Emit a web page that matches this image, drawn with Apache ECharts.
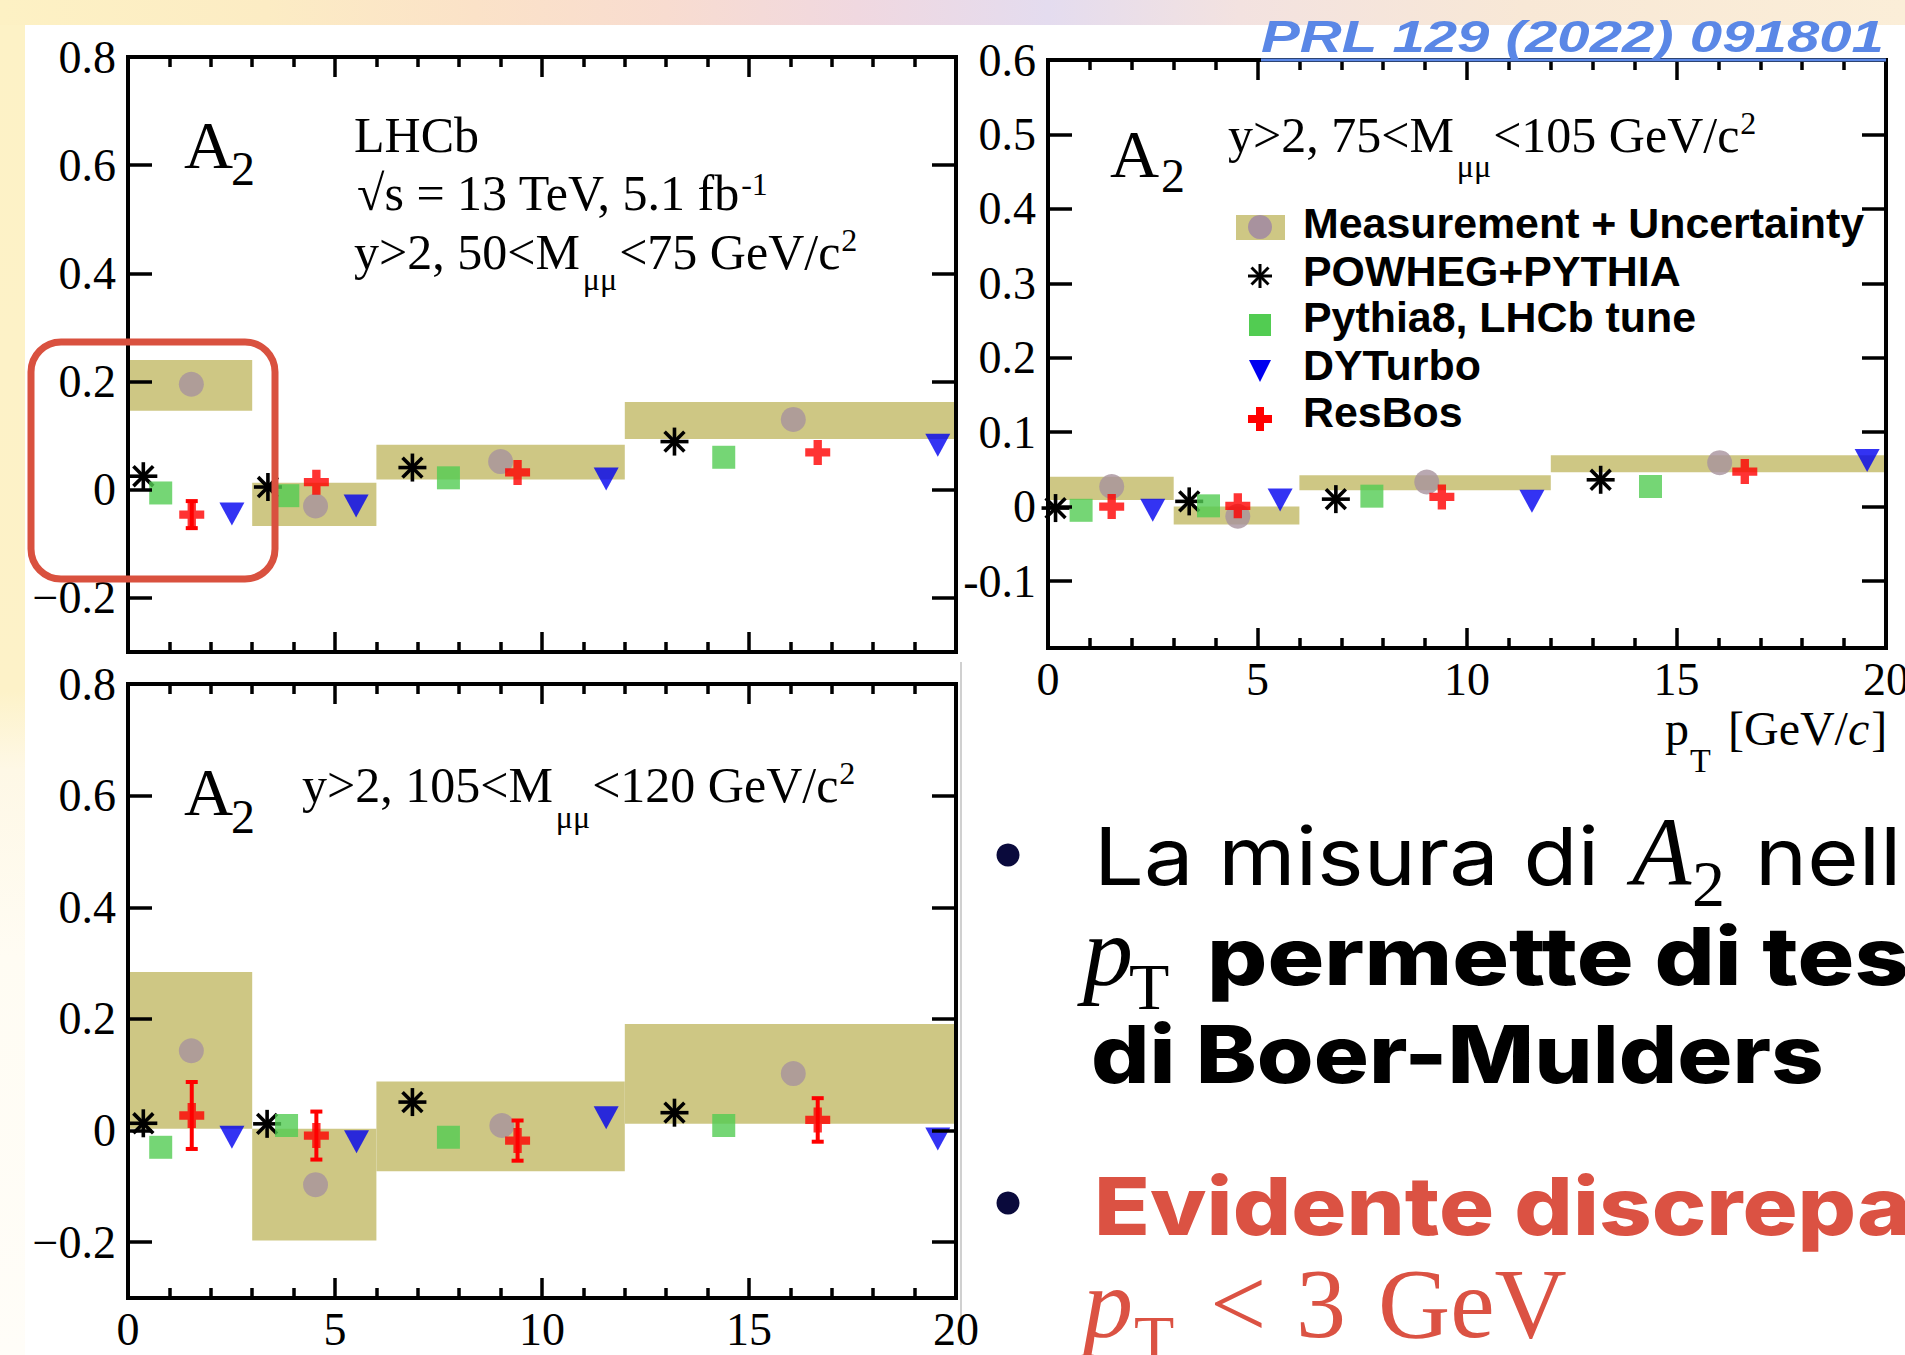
<!DOCTYPE html>
<html><head><meta charset="utf-8">
<script src="https://cdn.jsdelivr.net/npm/echarts@6/dist/echarts.min.js"></script>
<style>html,body{margin:0;padding:0;background:#fff;overflow:hidden}#c{width:1905px;height:1355px}</style>
</head><body><div id="c"></div>
<script>
// ---------------- data ----------------
const binEdges = [0, 3, 6, 12, 20];
const xTicks = [0, 5, 10, 15, 20];
const yTicksLeft = [-0.2, 0, 0.2, 0.4, 0.6, 0.8];
const yTicksRight = [-0.1, 0, 0.1, 0.2, 0.3, 0.4, 0.5, 0.6];

// panel A : y>2, 50<M<75
const bandLoA = [0.146, -0.067, 0.019, 0.094];
const bandHiA = [0.240, 0.013, 0.083, 0.162];
const measA = [[1.53, 0.195], [4.53, -0.030], [9.00, 0.052], [16.07, 0.130]];
const powhegA = [[0.37, 0.025], [3.38, 0.005], [6.87, 0.041], [13.20, 0.089]];
const pythiaA = [[0.79, -0.006], [3.86, -0.011], [7.74, 0.022], [14.39, 0.060]];
const dyturboA = [[2.51, -0.045], [5.51, -0.030], [11.55, 0.020], [19.56, 0.082]];
const resbosA = [[1.54, -0.046], [4.55, 0.014], [9.41, 0.032], [16.66, 0.069]];
const resbosErrA = [0.025, 0, 0, 0];

// panel B : y>2, 75<M<105
const bandLoB = [0.009, -0.024, 0.022, 0.046];
const bandHiB = [0.040, 0.000, 0.042, 0.069];
const measB = [[1.52, 0.027], [4.53, -0.013], [9.04, 0.033], [16.03, 0.059]];
const powhegB = [[0.18, -0.002], [3.37, 0.007], [6.87, 0.010], [13.19, 0.036]];
const pythiaB = [[0.79, -0.005], [3.83, 0.001], [7.73, 0.014], [14.38, 0.027]];
const dyturboB = [[2.50, -0.005], [5.54, 0.009], [11.55, 0.007], [19.55, 0.062]];
const resbosB = [[1.52, 0.000], [4.53, 0.001], [9.40, 0.013], [16.63, 0.047]];
const resbosErrB = [0, 0, 0, 0];

// panel C : y>2, 105<M<120
const bandLoC = [0.003, -0.197, -0.073, 0.012];
const bandHiC = [0.284, 0.003, 0.088, 0.191];
const measC = [[1.53, 0.143], [4.53, -0.097], [9.03, 0.009], [16.07, 0.102]];
const powhegC = [[0.37, 0.013], [3.36, 0.012], [6.87, 0.051], [13.20, 0.032]];
const pythiaC = [[0.79, -0.030], [3.83, 0.009], [7.74, -0.012], [14.39, 0.009]];
const dyturboC = [[2.51, -0.012], [5.52, -0.020], [11.55, 0.023], [19.56, -0.015]];
const resbosC = [[1.54, 0.027], [4.55, -0.009], [9.41, -0.018], [16.66, 0.019]];
const resbosErrC = [0.060, 0.043, 0.036, 0.039];

const legendLabels = ['Measurement + Uncertainty', 'POWHEG+PYTHIA', 'Pythia8, LHCb tune', 'DYTurbo', 'ResBos'];

// ---------------- styles ----------------
const SERIF = '"Liberation Serif", "Times New Roman", serif';
const SANS = '"Liberation Sans", Arial, sans-serif';
const INTER = 'Inter, "Noto Sans", sans-serif';
const BAND = '#cec784', MEAS = '#a8929e', GREEN = '#52cc52', BLUE = '#0000f0', RED = '#ff0000';
const SLIDE_RED = '#db5243', NAVY = '#0a0a3c', LINK = '#5a87e6';
const PLUS = 'path://M3,0H6V3H9V6H6V9H3V6H0V3H3Z';

const chart = echarts.init(document.getElementById('c'), null, {renderer: 'svg', width: 1905, height: 1355});
const mctx = document.createElement('canvas').getContext('2d');
function measure(text, font) { mctx.font = font; return mctx.measureText(text).width; }

// ---------------- grids & axes ----------------
const grids = [
  {left: 128, top: 57, width: 828, height: 595},
  {left: 1048, top: 60, width: 838, height: 588},
  {left: 128, top: 684, width: 828, height: 614}
].map(g => Object.assign({show: true, borderColor: '#000', borderWidth: 4, backgroundColor: 'transparent', z: 5, outerBoundsMode: 'none', containLabel: false}, g));

const xAxes = [], yAxes = [];
const tickLine = {color: '#000', width: 3.5};
function addAxes(g, yMin, yMax, yTicks, showX, fmt) {
  ['bottom', 'top'].forEach(pos => xAxes.push({
    gridIndex: g, type: 'value', min: 0, max: 20, interval: 5, position: pos, z: 6,
    axisLine: {show: false, onZero: false}, splitLine: {show: false},
    axisTick: {show: true, inside: true, length: 20, lineStyle: tickLine},
    minorTick: {show: true, splitNumber: 5, length: 10, lineStyle: tickLine},
    axisLabel: {show: showX && pos === 'bottom', showMinLabel: true, showMaxLabel: true, margin: 8,
      fontFamily: SERIF, fontSize: 46, color: '#000'}
  }));
  ['left', 'right'].forEach(pos => yAxes.push({
    gridIndex: g, type: 'value', min: yMin, max: yMax, position: pos, z: 6,
    axisLine: {show: false, onZero: false}, splitLine: {show: false},
    axisTick: {show: true, inside: true, length: 24, lineStyle: tickLine, customValues: yTicks},
    axisLabel: {show: pos === 'left', customValues: yTicks, formatter: fmt, margin: 12,
      fontFamily: SERIF, fontSize: 46, color: '#000'}
  }));
}
const fmtLong = v => (v === 0 ? '0' : String(v).replace('-', '\u2212'));
const fmtShort = v => String(v);
addAxes(0, -0.3, 0.8, yTicksLeft, false, fmtLong);
addAxes(1, -0.19, 0.6, yTicksRight, true, fmtShort);
addAxes(2, -0.3, 0.8, yTicksLeft, true, fmtLong);

// ---------------- series ----------------
const series = [];
function addPanel(g, lo, hi, meas, powheg, pythia, dyturbo, resbos, resErr) {
  const ax = {xAxisIndex: 2 * g, yAxisIndex: 2 * g};
  series.push(Object.assign({
    type: 'custom', name: 'band', z: 1, silent: true,
    data: lo.map((v, i) => [binEdges[i], binEdges[i + 1], v, hi[i]]),
    encode: {x: [0, 1], y: [2, 3]},
    renderItem: (p, api) => {
      const a = api.coord([api.value(0), api.value(3)]), b = api.coord([api.value(1), api.value(2)]);
      return {type: 'rect', shape: {x: a[0], y: a[1], width: b[0] - a[0], height: b[1] - a[1]}, style: {fill: BAND}};
    }
  }, ax));
  series.push(Object.assign({type: 'scatter', name: 'Measurement', z: 3, symbol: 'circle', symbolSize: 25,
    itemStyle: {color: MEAS}, data: meas}, ax));
  series.push(Object.assign({
    type: 'custom', name: 'POWHEG+PYTHIA', z: 3, data: powheg, encode: {x: 0, y: 1},
    renderItem: (p, api) => {
      const c = api.coord([api.value(0), api.value(1)]), r = 14;
      return {type: 'group', children: [0, 45, 90, 135].map(d => {
        const t = d * Math.PI / 180, dx = r * Math.cos(t), dy = r * Math.sin(t);
        return {type: 'line', shape: {x1: c[0] - dx, y1: c[1] - dy, x2: c[0] + dx, y2: c[1] + dy},
          style: {stroke: '#000', lineWidth: 3.6}};
      })};
    }
  }, ax));
  series.push(Object.assign({type: 'scatter', name: 'Pythia8', z: 3, symbol: 'rect', symbolSize: 23,
    itemStyle: {color: GREEN}, data: pythia}, ax));
  series.push(Object.assign({type: 'scatter', name: 'DYTurbo', z: 3, symbol: 'triangle', symbolRotate: 180,
    symbolSize: [25, 23], itemStyle: {color: BLUE}, data: dyturbo}, ax));
  series.push(Object.assign({
    type: 'custom', name: 'ResBos err', z: 4,
    data: resbos.map((p, i) => [p[0], p[1], resErr[i]]).filter(d => d[2] > 0),
    encode: {x: 0, y: 1},
    renderItem: (p, api) => {
      const x = api.value(0), y = api.value(1), e = api.value(2);
      const t = api.coord([x, y + e]), b = api.coord([x, y - e]), w = 6;
      const st = {stroke: RED, lineWidth: 4};
      return {type: 'group', children: [
        {type: 'line', shape: {x1: t[0], y1: t[1], x2: b[0], y2: b[1]}, style: st},
        {type: 'line', shape: {x1: t[0] - w, y1: t[1], x2: t[0] + w, y2: t[1]}, style: st},
        {type: 'line', shape: {x1: b[0] - w, y1: b[1], x2: b[0] + w, y2: b[1]}, style: st}
      ]};
    }
  }, ax));
  series.push(Object.assign({type: 'scatter', name: 'ResBos', z: 4, symbol: PLUS, symbolSize: 25,
    itemStyle: {color: RED}, data: resbos}, ax));
}
addPanel(0, bandLoA, bandHiA, measA, powhegA, pythiaA, dyturboA, resbosA, resbosErrA);
addPanel(1, bandLoB, bandHiB, measB, powhegB, pythiaB, dyturboB, resbosB, resbosErrB);
addPanel(2, bandLoC, bandHiC, measC, powhegC, pythiaC, dyturboC, resbosC, resbosErrC);

// ---------------- graphic overlay ----------------
const els = [];
function T(x, base, text, o) {
  const size = o.size, fam = o.family || SERIF;
  const font = (o.style || 'normal') + ' ' + (o.weight || 'normal') + ' ' + size + 'px ' + fam;
  const mid = o.mid != null ? o.mid : 0.34, sx = o.sx || 1;
  els.push({type: 'text', x: x, y: base - mid * size, scaleX: sx, z: 100,
    style: {text: text, font: font, fill: o.fill || '#000', align: 'left', textAlign: 'left',
      verticalAlign: 'middle', textVerticalAlign: 'middle'}});
  return x + measure(text, font) * sx;
}
// background
els.push({type: 'rect', z: -100, shape: {x: 0, y: 0, width: 1905, height: 1355}, style: {fill: '#ffffff'}});
els.push({type: 'rect', z: -99, shape: {x: 0, y: 0, width: 1905, height: 25}, style: {fill: {
  type: 'linear', x: 0, y: 0, x2: 1, y2: 0, colorStops: [
    {offset: 0, color: '#fdf1c4'}, {offset: 0.14, color: '#fcecc4'}, {offset: 0.25, color: '#fbe2c8'},
    {offset: 0.35, color: '#f8dcd0'}, {offset: 0.45, color: '#f0d8e0'}, {offset: 0.55, color: '#e4dcef'},
    {offset: 0.65, color: '#f3e2e0'}, {offset: 0.8, color: '#f8e8d6'}, {offset: 1, color: '#fbeed8'}]}}});
els.push({type: 'rect', z: -99, shape: {x: 0, y: 25, width: 25, height: 1330}, style: {fill: {
  type: 'linear', x: 0, y: 0, x2: 0, y2: 1, colorStops: [
    {offset: 0, color: '#fdf2c6'}, {offset: 0.5, color: '#fdf2c8'}, {offset: 0.56, color: '#fef8e6'},
    {offset: 0.7, color: '#fffcf3'}, {offset: 1, color: '#fffdf8'}]}}});
els.push({type: 'line', z: -50, shape: {x1: 961, y1: 662, x2: 961, y2: 1345}, style: {stroke: '#d0d0d0', lineWidth: 2}});

// panel annotations
T(184, 168, 'A', {size: 68}); T(231, 185, '2', {size: 48});
T(354, 151.5, 'LHCb', {size: 50});
let x = T(357, 210, '\u221As = 13 TeV, 5.1 fb', {size: 50}); T(x + 1, 195, '-1', {size: 32});
x = T(354, 269, 'y>2, 50<M', {size: 50}); x = T(x + 3, 290, '\u03bc\u03bc', {size: 32});
x = T(x + 2, 269, '<75 GeV/c', {size: 50}); T(x + 1, 251, '2', {size: 32});

T(1110, 177, 'A', {size: 68}); T(1161, 191.5, '2', {size: 48});
x = T(1228, 152, 'y>2, 75<M', {size: 50}); x = T(x + 3, 176.6, '\u03bc\u03bc', {size: 32});
x = T(x + 2, 152, '<105 GeV/c', {size: 50}); T(x + 1, 134, '2', {size: 32});

T(184, 815, 'A', {size: 68}); T(231, 833, '2', {size: 48});
x = T(302, 802, 'y>2, 105<M', {size: 50}); x = T(x + 3, 828, '\u03bc\u03bc', {size: 32});
x = T(x + 2, 802, '<120 GeV/c', {size: 50}); T(x + 1, 784, '2', {size: 32});

// pT axis title
T(1665, 745, 'p', {size: 48}); T(1690, 772, 'T', {size: 34});
x = T(1728, 745, '[GeV/', {size: 48}); x = T(x, 745, 'c', {size: 48, style: 'italic'}); T(x + 2, 745, ']', {size: 48});

// legend
const lx = 1260, lrows = [227, 276, 325, 370, 419], ltext = [224, 271.5, 318, 366, 412.5];
els.push({type: 'rect', z: 100, shape: {x: 1236, y: 215, width: 49, height: 25}, style: {fill: BAND}});
els.push({type: 'circle', z: 101, shape: {cx: lx, cy: lrows[0], r: 12}, style: {fill: MEAS}});
[0, 45, 90, 135].forEach(d => {
  const t = d * Math.PI / 180, r = 12, dx = r * Math.cos(t), dy = r * Math.sin(t);
  els.push({type: 'line', z: 101, shape: {x1: lx - dx, y1: lrows[1] - dy, x2: lx + dx, y2: lrows[1] + dy}, style: {stroke: '#000', lineWidth: 3}});
});
els.push({type: 'rect', z: 101, shape: {x: lx - 11, y: lrows[2] - 11, width: 22, height: 22}, style: {fill: GREEN}});
els.push({type: 'polygon', z: 101, shape: {points: [[lx - 11, lrows[3] - 10], [lx + 11, lrows[3] - 10], [lx, lrows[3] + 12]]}, style: {fill: BLUE}});
els.push({type: 'polygon', z: 101, shape: {points: [[lx - 4, lrows[4] - 12], [lx + 4, lrows[4] - 12], [lx + 4, lrows[4] - 4], [lx + 12, lrows[4] - 4], [lx + 12, lrows[4] + 4], [lx + 4, lrows[4] + 4], [lx + 4, lrows[4] + 12], [lx - 4, lrows[4] + 12], [lx - 4, lrows[4] + 4], [lx - 12, lrows[4] + 4], [lx - 12, lrows[4] - 4], [lx - 4, lrows[4] - 4]]}, style: {fill: RED}});
const legFont = 'normal bold 42px ' + SANS;
const legSx = 561 / measure(legendLabels[0], legFont);
legendLabels.forEach((s, i) => T(1303, ltext[i] + 0.3465 * 42, s, {size: 42, family: SANS, weight: 'bold', sx: legSx, mid: 0.3465}));

// red highlight box
els.push({type: 'rect', z: 110, shape: {x: 31, y: 342, width: 244, height: 237, r: 30}, style: {fill: 'none', stroke: '#d9513f', lineWidth: 7}});

// reference link
const prlFont = 'italic bold 44px ' + SANS;
const prlSx = 624 / measure('PRL 129 (2022) 091801', prlFont);
T(1261, 52, 'PRL 129 (2022) 091801', {size: 44, family: SANS, weight: 'bold', style: 'italic', fill: LINK, sx: prlSx, mid: 0.3465});
els.push({type: 'line', z: 100, shape: {x1: 1261, y1: 60, x2: 1886, y2: 60}, style: {stroke: LINK, lineWidth: 3}});

// slide bullets
els.push({type: 'circle', z: 100, shape: {cx: 1008, cy: 855, r: 11.5}, style: {fill: NAVY}});
els.push({type: 'circle', z: 100, shape: {cx: 1008, cy: 1203, r: 11.5}, style: {fill: NAVY}});
const fontL = 'normal normal 80px ' + INTER, fontB = 'normal 800 80px ' + INTER;
const sxL = 505 / measure('La misura di', fontL);
const sxB = 733 / measure('di Boer-Mulders', fontB);
T(1094, 884, 'La misura di', {size: 80, family: INTER, sx: sxL, mid: 0.36});
T(1632, 884, 'A', {size: 97, style: 'italic'}); T(1692, 906, '2', {size: 66});
T(1755, 884, 'nella', {size: 80, family: INTER, sx: sxL, mid: 0.36});
T(1083, 985, 'p', {size: 100, style: 'italic'}); T(1129, 1009, 'T', {size: 66});
T(1207, 985, 'permette di testare', {size: 80, family: INTER, weight: 800, sx: sxB * 1.03, mid: 0.36});
T(1091, 1083, 'di Boer-Mulders', {size: 80, family: INTER, weight: 800, sx: sxB, mid: 0.36});
T(1094, 1235, 'Evidente discrepanza', {size: 80, family: INTER, weight: 800, sx: sxB, mid: 0.36, fill: SLIDE_RED});
T(1083, 1337, 'p', {size: 100, style: 'italic', fill: SLIDE_RED}); T(1134, 1361, 'T', {size: 66, fill: SLIDE_RED});
T(1210, 1337, '<', {size: 100, fill: SLIDE_RED}); T(1296, 1337, '3', {size: 100, fill: SLIDE_RED});
T(1378, 1337, 'GeV', {size: 100, fill: SLIDE_RED});

chart.setOption({
  animation: false,
  backgroundColor: '#ffffff',
  grid: grids, xAxis: xAxes, yAxis: yAxes, series: series,
  graphic: {elements: els}
});
</script></body></html>
